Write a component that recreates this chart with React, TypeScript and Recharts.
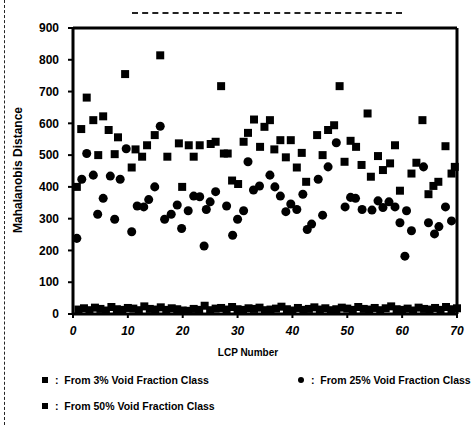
import React from 'react';
import { ScatterChart, Scatter, XAxis, YAxis, ZAxis, ReferenceLine } from 'recharts';

// 3% void fraction class (squares)
const class3Lcp = [0.7, 1.5, 2.5, 3.7, 4.6, 5.5, 6.5, 7.6, 8.2, 9.5, 10.7, 11.4, 12.6, 13.5, 14.9, 15.9, 17.2, 19.3, 19.9, 21.1, 22, 23.1, 25.1, 26, 27, 27.5, 28.2, 29, 30.1, 31.1, 31.9, 33, 34.1, 34.9, 35.9, 36.7, 37.8, 38.8, 39.7, 40.8, 41.7, 42.5, 44.5, 45.5, 46.5, 47.6, 48.6, 49.5, 50.6, 51.6, 52.6, 53.7, 54.3, 55.6, 56.5, 57.8, 58.7, 59.6, 61.7, 62.6, 63.7, 64.8, 65.7, 66.6, 67.9, 69, 69.6];
const class3Dist = [400, 582, 681, 610, 500, 622, 579, 503, 556, 755, 461, 518, 495, 531, 563, 814, 495, 537, 400, 531, 495, 531, 535, 542, 717, 505, 505, 420, 409, 542, 570, 612, 526, 589, 610, 518, 547, 493, 547, 461, 507, 416, 563, 500, 579, 594, 717, 479, 545, 526, 469, 631, 432, 497, 453, 474, 531, 388, 442, 476, 610, 377, 403, 416, 528, 442, 463];

// 25% void fraction class (circles)
const class25Lcp = [0.7, 1.6, 2.5, 3.7, 4.5, 5.5, 6.8, 7.6, 8.6, 9.7, 10.7, 11.7, 12.9, 13.8, 14.9, 15.9, 16.7, 17.9, 19, 19.8, 21, 22, 23.1, 23.9, 24.3, 25, 26, 28, 29.1, 30, 31.1, 31.9, 32.9, 34, 35.9, 36.8, 37.8, 38.8, 39.7, 40.8, 41.9, 42.7, 43.5, 44.7, 45.5, 46.5, 48, 49.6, 50.6, 51.5, 52.7, 54.5, 55.6, 56.5, 57.6, 58.7, 59.6, 60.5, 60.8, 61.7, 63.9, 64.8, 65.9, 66.7, 67.9, 69];
const class25Dist = [238, 424, 505, 437, 314, 364, 434, 298, 424, 520, 259, 340, 337, 360, 400, 591, 298, 314, 343, 269, 325, 371, 369, 214, 329, 353, 385, 340, 248, 298, 325, 479, 390, 403, 437, 400, 371, 322, 346, 329, 377, 266, 283, 424, 311, 463, 539, 337, 367, 364, 329, 327, 356, 335, 353, 337, 287, 182, 325, 262, 463, 287, 252, 275, 337, 293];

// 50% void fraction class (band near zero), one per LCP
const class50Dist = [14, 18, 12, 20, 16, 11, 22, 15, 13, 19, 17, 12, 24, 16, 14, 21, 13, 18, 15, 11, 10, 16, 13, 26, 12, 17, 19, 14, 22, 15, 13, 18, 16, 20, 12, 14, 17, 23, 15, 11, 19, 13, 16, 21, 14, 18, 12, 15, 20, 17, 13, 22, 16, 14, 19, 12, 18, 24, 15, 13, 17, 11, 20, 16, 14, 19, 13, 22, 15, 18];

const xTicks = [0, 10, 20, 30, 40, 50, 60, 70];
const yTicks = [0, 100, 200, 300, 400, 500, 600, 700, 800, 900];

const data3 = class3Lcp.map((x, i) => ({ x, y: class3Dist[i] }));
const data25 = class25Lcp.map((x, i) => ({ x, y: class25Dist[i] }));
const data50 = class50Dist.map((y, i) => ({ x: i + 1, y }));

const font = '"Liberation Sans", Arial, sans-serif';

export default function App() {
  return (
    <div style={{ position: 'absolute', left: 0, top: 0, width: 472, height: 425, background: '#fff', overflow: 'hidden', fontFamily: font }}>
      {/* scan edge */}
      <div style={{ position: 'absolute', left: 4, top: 0, height: 425, borderLeft: '1px dashed #222' }} />
      <div style={{ position: 'absolute', left: 132, top: 12, width: 270, borderTop: '2px dashed #222' }} />

      <ScatterChart width={472} height={425} margin={{ top: 28, right: 15, bottom: 81, left: 0 }}>
        <XAxis
          type="number"
          dataKey="x"
          domain={[0, 70]}
          ticks={xTicks}
          interval={0}
          axisLine={{ stroke: '#000', strokeWidth: 3 }}
          tickLine={{ stroke: '#000', strokeWidth: 2 }}
          tickSize={4}
          tickMargin={8}
          height={30}
          tick={{ fill: '#000', fontSize: 12, fontWeight: 700, fontStyle: 'italic', fontFamily: font }}
        />
        <YAxis
          type="number"
          dataKey="y"
          domain={[0, 900]}
          ticks={yTicks}
          interval={0}
          width={73}
          axisLine={{ stroke: '#000', strokeWidth: 3 }}
          tickLine={{ stroke: '#000', strokeWidth: 2 }}
          tickSize={5}
          tickMargin={9}
          tick={{ fill: '#000', fontSize: 12, fontWeight: 700, fontFamily: font }}
        />
        <ZAxis range={[55, 55]} />
        <ReferenceLine y={900} stroke="#000" strokeWidth={3} />
        <ReferenceLine x={70} stroke="#000" strokeWidth={3} />
        <Scatter data={data50} fill="#000" shape="square" isAnimationActive={false} />
        <Scatter data={data25} fill="#000" shape="circle" isAnimationActive={false} />
        <Scatter data={data3} fill="#000" shape="square" isAnimationActive={false} />
      </ScatterChart>

      <div style={{ position: 'absolute', left: 18, top: 170, transform: 'translate(-50%, -50%) rotate(-90deg)', whiteSpace: 'nowrap', fontSize: 12, fontWeight: 700 }}>
        Mahalanobis Distance
      </div>
      <div style={{ position: 'absolute', left: 248, top: 352, transform: 'translate(-50%, -50%)', whiteSpace: 'nowrap', fontSize: 10, fontWeight: 700 }}>
        LCP Number
      </div>

      <div style={{ position: 'absolute', left: 42, top: 374, whiteSpace: 'nowrap', fontSize: 10.5, fontWeight: 700, display: 'flex', alignItems: 'center' }}>
        <span style={{ display: 'inline-block', width: 6, height: 6, background: '#000' }} />
        <span style={{ marginLeft: 7 }}>:&nbsp; From 3% Void Fraction Class</span>
      </div>
      <div style={{ position: 'absolute', left: 298, top: 374, whiteSpace: 'nowrap', fontSize: 10.5, fontWeight: 700, display: 'flex', alignItems: 'center' }}>
        <span style={{ display: 'inline-block', width: 6, height: 6, borderRadius: 3, background: '#000' }} />
        <span style={{ marginLeft: 7 }}>:&nbsp; From 25% Void Fraction Class</span>
      </div>
      <div style={{ position: 'absolute', left: 42, top: 400, whiteSpace: 'nowrap', fontSize: 10.5, fontWeight: 700, display: 'flex', alignItems: 'center' }}>
        <span style={{ display: 'inline-block', width: 6, height: 6, background: '#000' }} />
        <span style={{ marginLeft: 7 }}>:&nbsp; From 50% Void Fraction Class</span>
      </div>
    </div>
  );
}
